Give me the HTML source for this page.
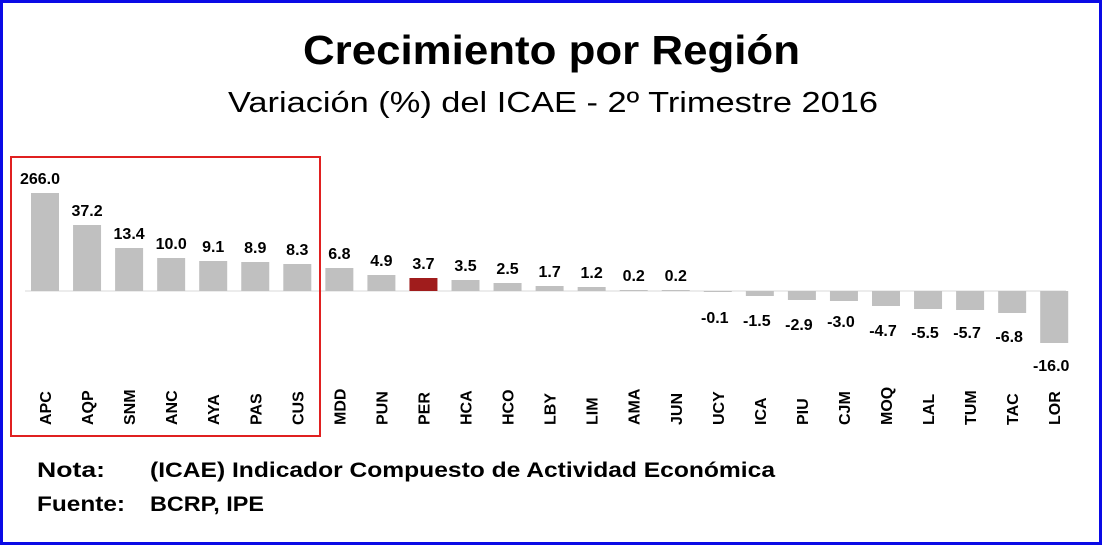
<!DOCTYPE html>
<html><head><meta charset="utf-8"><style>
html,body{margin:0;padding:0;background:#fff}
svg{display:block}
</style></head><body>
<svg width="1102" height="545" xmlns="http://www.w3.org/2000/svg" font-family="'Liberation Sans', 'DejaVu Sans', sans-serif">
<rect x="0" y="0" width="1102" height="545" fill="#fff"/>
<rect x="1.5" y="1.5" width="1099" height="542" fill="none" stroke="#0a0ae6" stroke-width="3"/>
<text x="303" y="64" font-size="41" font-weight="bold" fill="#000" textLength="497" lengthAdjust="spacingAndGlyphs">Crecimiento por Región</text>
<text x="228" y="112" font-size="29" fill="#000" textLength="650" lengthAdjust="spacingAndGlyphs">Variación (%) del ICAE - 2º Trimestre 2016</text>
<line x1="25" y1="291" x2="1066" y2="291" stroke="#d9d9d9" stroke-width="1"/>
<g font-weight="bold" font-size="16" text-anchor="middle" fill="#000" id="bars"></g>
<rect x="11" y="157" width="309" height="279" fill="none" stroke="#e02020" stroke-width="2"/>
<text x="37" y="477" font-size="21" font-weight="bold" textLength="68" lengthAdjust="spacingAndGlyphs">Nota:</text>
<text x="150" y="477" font-size="21" font-weight="bold" textLength="625" lengthAdjust="spacingAndGlyphs">(ICAE) Indicador Compuesto de Actividad Económica</text>
<text x="37" y="511" font-size="21" font-weight="bold" textLength="88" lengthAdjust="spacingAndGlyphs">Fuente:</text>
<text x="150" y="511" font-size="21" font-weight="bold" textLength="114" lengthAdjust="spacingAndGlyphs">BCRP, IPE</text>
</svg>
<script>
var d=[["APC","266.0",193],["AQP","37.2",225],["SNM","13.4",248],["ANC","10.0",258],["AYA","9.1",261],["PAS","8.9",262],["CUS","8.3",264],["MDD","6.8",268],["PUN","4.9",275],["PER","3.7",278],["HCA","3.5",280],["HCO","2.5",283],["LBY","1.7",286],["LIM","1.2",287],["AMA","0.2",290],["JUN","0.2",290],["UCY","-0.1",292,323],["ICA","-1.5",296,326],["PIU","-2.9",300,330],["CJM","-3.0",301,327],["MOQ","-4.7",306,336],["LAL","-5.5",309,338],["TUM","-5.7",310,338],["TAC","-6.8",313,342],["LOR","-16.0",343,371]];
var g=document.getElementById('bars'),s='';
d.forEach(function(e,i){
 var cx=45+i*42.05,x=cx-14,top=e[2];
 var col=e[0]=="PER"?"#a01c1c":"#c0c0c0";
 if(top<291){s+='<rect x="'+x+'" y="'+top+'" width="28" height="'+(291-top)+'" fill="'+col+'"/>';
  s+='<text x="'+(cx+(i==0?-5:0))+'" y="'+(top-9)+'">'+e[1]+'</text>';}
 else{s+='<rect x="'+x+'" y="291" width="28" height="'+(top-291)+'" fill="'+col+'"/>';
  s+='<text x="'+(cx-3)+'" y="'+e[3]+'">'+e[1]+'</text>';}
 s+='<text transform="translate('+(cx+6)+',425) rotate(-90)" text-anchor="start" font-size="16">'+e[0]+'</text>';
});
g.innerHTML=s;
</script>
</body></html>
